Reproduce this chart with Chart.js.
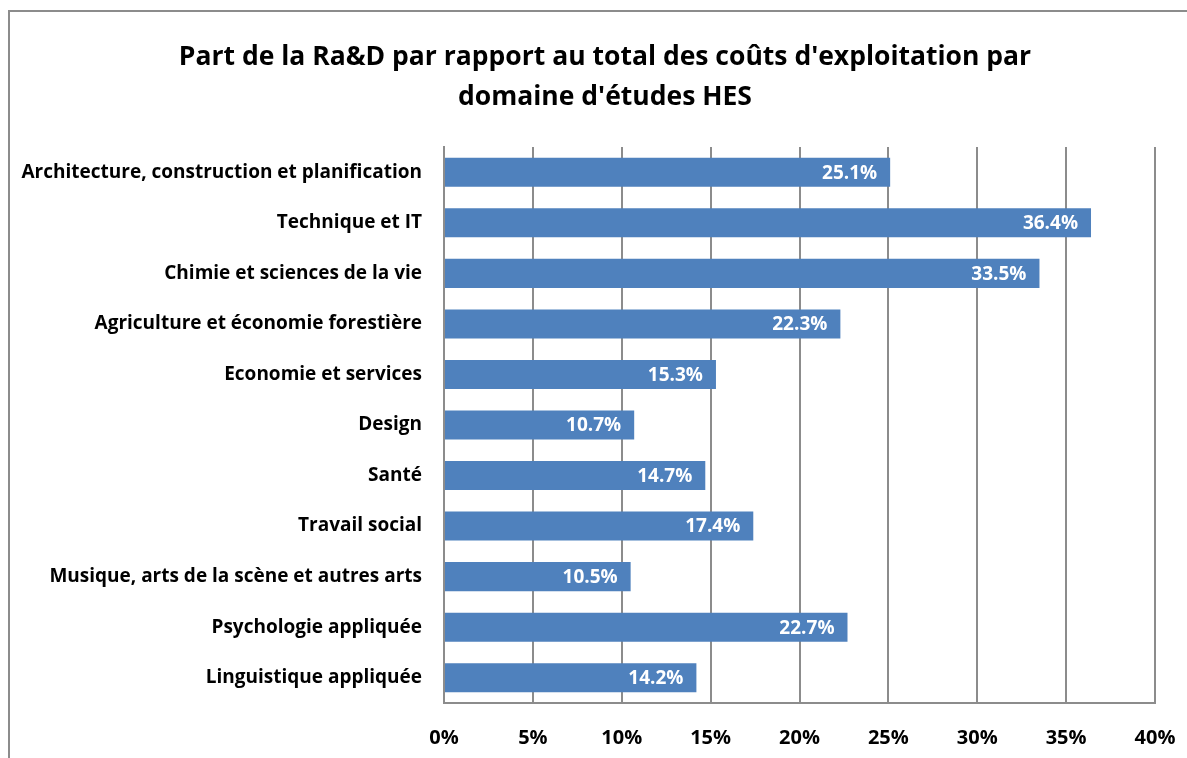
<!DOCTYPE html>
<html>
<head>
<meta charset="utf-8">
<script src="https://cdn.jsdelivr.net/npm/chart.js@4"></script>
<style>
  html, body { margin: 0; padding: 0; background: #fff; overflow: hidden; }
  #frame {
    position: absolute; left: 8px; top: 10px;
    width: 1200px; height: 800px;
    border: 2px solid #8c8c8c; box-sizing: border-box;
  }
  #chart { position: absolute; left: 0px; top: 0px; }
</style>
</head>
<body>
<div id="frame"><canvas id="chart" width="1190" height="760"></canvas></div>
<script>
var categories = [
  'Architecture, construction et planification',
  'Technique et IT',
  'Chimie et sciences de la vie',
  'Agriculture et économie forestière',
  'Economie et services',
  'Design',
  'Santé',
  'Travail social',
  'Musique, arts de la scène et autres arts',
  'Psychologie appliquée',
  'Linguistique appliquée'
];
var shares = [25.1, 36.4, 33.5, 22.3, 15.3, 10.7, 14.7, 17.4, 10.5, 22.7, 14.2];
var tickLabels = ['0%', '5%', '10%', '15%', '20%', '25%', '30%', '35%', '40%'];
var titleLines = ["Part de la Ra&D par rapport au total des coûts d'exploitation par", "domaine d'études HES"];

var fontFamily = '"Open Sans", sans-serif';

// title centred on the frame, not on the padded box
var chartTitle = {
  id: 'chartTitle',
  afterDraw: function(chart) {
    var ctx = chart.ctx;
    ctx.save();
    ctx.fillStyle = '#000';
    ctx.font = 'bold 26.5px ' + fontFamily;
    ctx.textAlign = 'center';
    ctx.textBaseline = 'middle';
    titleLines.forEach(function(line, i) {
      ctx.fillText(line, chart.width / 2, 45 + i * 40);
    });
    ctx.restore();
  }
};

// draws the value at the inner end of each bar
var barLabels = {
  id: 'barLabels',
  afterDatasetsDraw: function(chart) {
    var ctx = chart.ctx;
    var meta = chart.getDatasetMeta(0);
    ctx.save();
    ctx.fillStyle = '#ffffff';
    ctx.font = 'bold 19px ' + fontFamily;
    ctx.textAlign = 'right';
    ctx.textBaseline = 'middle';
    meta.data.forEach(function(bar, i) {
      ctx.fillText(shares[i].toFixed(1) + '%', bar.x - 13, bar.y + 1);
    });
    ctx.restore();
  }
};

var ctx = document.getElementById('chart').getContext('2d');
var chart = new Chart(ctx, {
  type: 'bar',
  data: {
    labels: categories,
    datasets: [{
      data: shares,
      backgroundColor: '#4f81bd',
      borderWidth: 0,
      barPercentage: 0.575,
      categoryPercentage: 1
    }]
  },
  options: {
    indexAxis: 'y',
    responsive: false,
    animation: false,
    layout: { padding: { left: 10, right: 45, top: 135, bottom: 0 } },
    plugins: {
      legend: { display: false },
      tooltip: { enabled: false },
      title: { display: false }
    },
    scales: {
      x: {
        min: 0,
        max: 40,
        ticks: {
          stepSize: 5,
          color: '#000',
          padding: 23,
          font: { family: fontFamily, size: 20, weight: 'bold' },
          callback: function(v, i) { return tickLabels[i]; }
        },
        grid: { color: '#8c8c8c', lineWidth: 2, drawTicks: false },
        border: { color: '#8c8c8c', width: 2 },
        afterFit: function(s) { s.height = 69; }
      },
      y: {
        ticks: {
          color: '#000',
          padding: 22,
          font: { family: fontFamily, size: 19, weight: 'bold' }
        },
        grid: { display: false, drawTicks: false },
        border: { color: '#8c8c8c', width: 2 },
        afterFit: function(s) { s.width = 424; }
      }
    }
  },
  plugins: [barLabels, chartTitle]
});
</script>
</body>
</html>
